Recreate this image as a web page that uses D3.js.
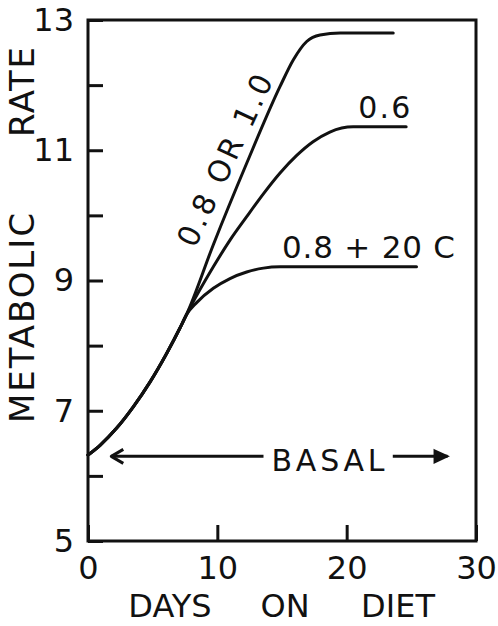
<!DOCTYPE html>
<html><head><meta charset="utf-8">
<script src="https://cdn.jsdelivr.net/npm/d3@7"></script>
<style>
body{margin:0;background:#fff}
text{font-family:"DejaVu Sans",sans-serif;fill:#111}
</style></head>
<body><svg id="c" width="498" height="626"></svg>
<script>
// ---- data ----
const xTicks = [0, 10, 20, 30];
const yTicks = [5, 6, 7, 8, 9, 10, 11, 12, 13];
const yTickLabels = [5, 7, 9, 11, 13];
const seriesNames = ["0.8 OR 1.0", "0.6", "0.8 + 20 C"];
const commonPart = [[0,6.32],[0.93,6.47],[2.2,6.73],[3.5,7.06],[4.79,7.44],[6.08,7.88],[7.11,8.27],[7.6,8.47]];
const series08or10 = [[9.69,9.55],[12.27,10.8],[14.85,11.98],[15.88,12.39],[16.91,12.67],[17.94,12.77],[19.5,12.8],[23.6,12.8]];
const series06 = [[9.69,9.21],[10.98,9.62],[12.27,9.98],[13.56,10.33],[14.85,10.65],[16.14,10.92],[17.4,11.13],[18.7,11.28],[20.5,11.36],[24.6,11.36]];
const series08plus20C = [[8.4,8.66],[9.69,8.88],[10.98,9.03],[12.27,9.13],[13.56,9.19],[14.85,9.21],[25.4,9.21]];
const basal = {label: "BASAL", value: 6.3, from: 1.8, to: 27.8};
const xTitle = ["DAYS", "ON", "DIET"];
const yTitle = ["METABOLIC", "RATE"];

// ---- chart ----
const svg = d3.select("#c");
const L = 88, R = 476, T = 20, B = 541;
const x = d3.scaleLinear().domain([0, 30]).range([L, R]);
const y = d3.scaleLinear().domain([5, 13]).range([B, T]);
const INK = "#111";

svg.append("rect").attr("width", 498).attr("height", 626).attr("fill", "#fff");

// frame
svg.append("rect").attr("x", L).attr("y", T).attr("width", R - L).attr("height", B - T)
  .attr("fill", "none").attr("stroke", INK).attr("stroke-width", 3);

const gy = svg.append("g").attr("transform", `translate(${L},0)`)
  .call(d3.axisLeft(y).tickValues(yTicks).tickSize(-15).tickPadding(14)
    .tickFormat(d => yTickLabels.includes(d) ? d : ""));
gy.select(".domain").remove();
gy.selectAll("line").attr("stroke", INK).attr("stroke-width", 3);
gy.selectAll("text").attr("font-size", 32).attr("font-family", "DejaVu Sans").attr("fill", INK);

const gx = svg.append("g").attr("transform", `translate(0,${B})`)
  .call(d3.axisBottom(x).tickValues(xTicks).tickSize(-16).tickPadding(15));
gx.select(".domain").remove();
gx.selectAll("line").attr("stroke", INK).attr("stroke-width", 3);
gx.selectAll("text").attr("font-size", 32).attr("font-family", "DejaVu Sans").attr("fill", INK);

// curves
const line = d3.line().x(d => x(d[0])).y(d => y(d[1])).curve(d3.curveMonotoneX);
[series08or10, series06, series08plus20C].forEach((s, i) => {
  svg.append("path").datum(commonPart.concat(s)).attr("d", line)
    .attr("fill", "none").attr("stroke", INK).attr("stroke-width", 3)
    .attr("stroke-linecap", "round").attr("class", "series-" + i);
});

// curve labels
svg.append("text").attr("x", 195).attr("y", 249)
  .attr("transform", "rotate(-65,195,249)")
  .attr("font-size", 30).attr("textLength", 186).attr("lengthAdjust", "spacing")
  .text(seriesNames[0]);
svg.append("text").attr("x", x(20.9)).attr("y", y(11.5))
  .attr("font-size", 30).attr("textLength", 52).attr("lengthAdjust", "spacing")
  .text(seriesNames[1]);
svg.append("text").attr("x", x(15.0)).attr("y", y(9.35))
  .attr("font-size", 31).attr("textLength", 173).attr("lengthAdjust", "spacing")
  .text(seriesNames[2]);

// basal arrow
const by = y(basal.value);
const lx = x(basal.from), rx = x(basal.to);
svg.append("line").attr("x1", lx).attr("x2", rx).attr("y1", by).attr("y2", by)
  .attr("stroke", INK).attr("stroke-width", 3);
const bt = svg.append("text").attr("x", 328).attr("y", by + 15).attr("text-anchor", "middle")
  .attr("font-size", 30).attr("textLength", 113).attr("lengthAdjust", "spacing").text(basal.label);
const bb = bt.node().getBBox();
svg.append("rect").attr("x", bb.x - 8).attr("y", by - 6).attr("width", bb.width + 16).attr("height", 12).attr("fill", "#fff");
bt.raise();
svg.append("path").attr("d", `M${lx + 12},${by - 7}L${lx},${by}L${lx + 12},${by + 7}`)
  .attr("fill", "none").attr("stroke", INK).attr("stroke-width", 3).attr("stroke-linejoin", "round");
svg.append("path").attr("d", `M${rx - 13},${by - 6}L${rx},${by}L${rx - 13},${by + 6}Z`)
  .attr("fill", INK).attr("stroke", INK).attr("stroke-width", 2);

// axis titles
const xt = svg.append("text").attr("y", 617).attr("font-size", 32);
const xtPos = [170, 285, 398];
xTitle.forEach((w, i) => xt.append("tspan").attr("x", xtPos[i]).attr("text-anchor", "middle").text(w));
const ytPos = [318, 92];
const ytLen = [210, 90];
yTitle.forEach((w, i) => {
  svg.append("text").attr("transform", `translate(34,${ytPos[i]}) rotate(-90)`)
    .attr("text-anchor", "middle").attr("font-size", 34)
    .attr("textLength", ytLen[i]).attr("lengthAdjust", "spacing").text(w);
});
</script></body></html>
